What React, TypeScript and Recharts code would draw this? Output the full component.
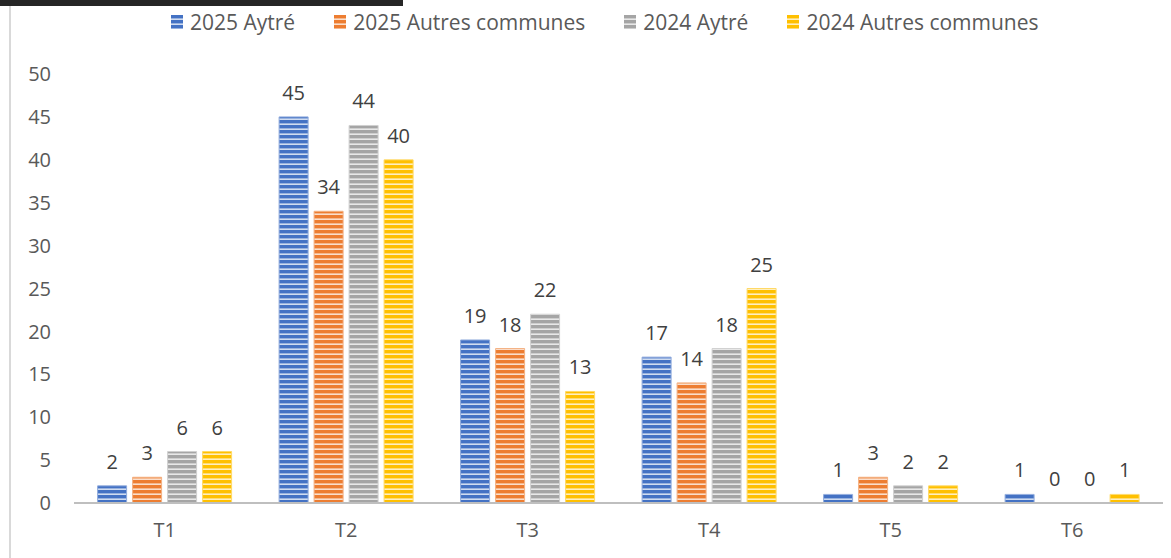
import { BarChart, Bar, XAxis, YAxis, Legend, LabelList } from 'recharts';

const categories = ['T1', 'T2', 'T3', 'T4', 'T5', 'T6'];
const aytre2025 = [2, 45, 19, 17, 1, 1];
const autres2025 = [3, 34, 18, 14, 3, 0];
const aytre2024 = [6, 44, 22, 18, 2, 0];
const autres2024 = [6, 40, 13, 25, 2, 1];
const yTicks = [0, 5, 10, 15, 20, 25, 30, 35, 40, 45, 50];

const series = [
  { key: 'a25', name: '2025 Aytré', color: '#4472C4', edge: '#8faadc' },
  { key: 'o25', name: '2025 Autres communes', color: '#ED7D31', edge: '#f4b183' },
  { key: 'a24', name: '2024 Aytré', color: '#A5A5A5', edge: '#d0d0d0' },
  { key: 'o24', name: '2024 Autres communes', color: '#FFC000', edge: '#ffd966' },
];

const data = categories.map((c, i) => ({
  name: c,
  a25: aytre2025[i],
  o25: autres2025[i],
  a24: aytre2024[i],
  o24: autres2024[i],
}));

const FONT = '"Open Sans", sans-serif';

function StripeLegend() {
  return (
    <div style={{ display: 'flex', alignItems: 'center', fontFamily: FONT, fontSize: 21, color: '#595959', lineHeight: '24px' }}>
      {series.map((s) => (
        <div key={s.key} style={{ display: 'flex', alignItems: 'center', marginRight: 39 }}>
          <svg width={12} height={14} style={{ marginRight: 7 }}>
            <rect x={0} y={0} width={12} height={14} fill={`url(#stripe-${s.key})`} />
          </svg>
          <span>{s.name}</span>
        </div>
      ))}
    </div>
  );
}

// keeps the label of a zero value: the bar gets a hairline height so its label is drawn
const zeroKeep = (v: number) => (v === 0 ? 0.01 : 0);

export default function App() {
  return (
    <div style={{ position: 'absolute', left: 0, top: 0, width: 1171, height: 558, background: '#fff' }}>
      {/* dark strip and left frame line */}
      <div style={{ position: 'absolute', left: 0, top: 0, width: 403, height: 6, background: '#262626' }} />
      <div style={{ position: 'absolute', left: 9, top: 6, width: 2, height: 552, background: '#d9d9d9' }} />
      <BarChart
        width={1171}
        height={558}
        data={data}
        margin={{ top: 50, right: 8, bottom: 0, left: 14 }}
        barCategoryGap="13%"
        barGap={6}
      >
        <defs>
          {series.map((s) => (
            <pattern key={s.key} id={`stripe-${s.key}`} patternUnits="userSpaceOnUse" width={5} height={5}>
              <rect x={0} y={0} width={5} height={5} fill={s.color} />
              <rect x={0} y={3.4} width={5} height={1.6} fill="#ffffff" fillOpacity={0.75} />
            </pattern>
          ))}
        </defs>
        <XAxis
          dataKey="name"
          axisLine={{ stroke: '#bfbfbf', strokeWidth: 2 }}
          tickLine={false}
          tickMargin={14}
          height={55}
          tick={{ fill: '#595959', fontSize: 20, fontFamily: FONT }}
        />
        <YAxis
          domain={[0, 50]}
          ticks={yTicks}
          width={60}
          axisLine={false}
          tickLine={false}
          tickMargin={17}
          tick={{ fill: '#595959', fontSize: 20, fontFamily: FONT }}
        />
        <Legend
          verticalAlign="top"
          content={<StripeLegend />}
          wrapperStyle={{ top: 10, left: 171, width: 'auto' }}
        />
        {series.map((s) => (
          <Bar
            key={s.key}
            dataKey={s.key}
            name={s.name}
            fill={`url(#stripe-${s.key})`}
            stroke={s.edge}
            strokeWidth={1}
            minPointSize={zeroKeep}
            isAnimationActive={false}
          >
            <LabelList
              dataKey={s.key}
              position="top"
              offset={17}
              style={{ fill: '#404040', fontSize: 20, fontFamily: FONT }}
            />
          </Bar>
        ))}
      </BarChart>
    </div>
  );
}
